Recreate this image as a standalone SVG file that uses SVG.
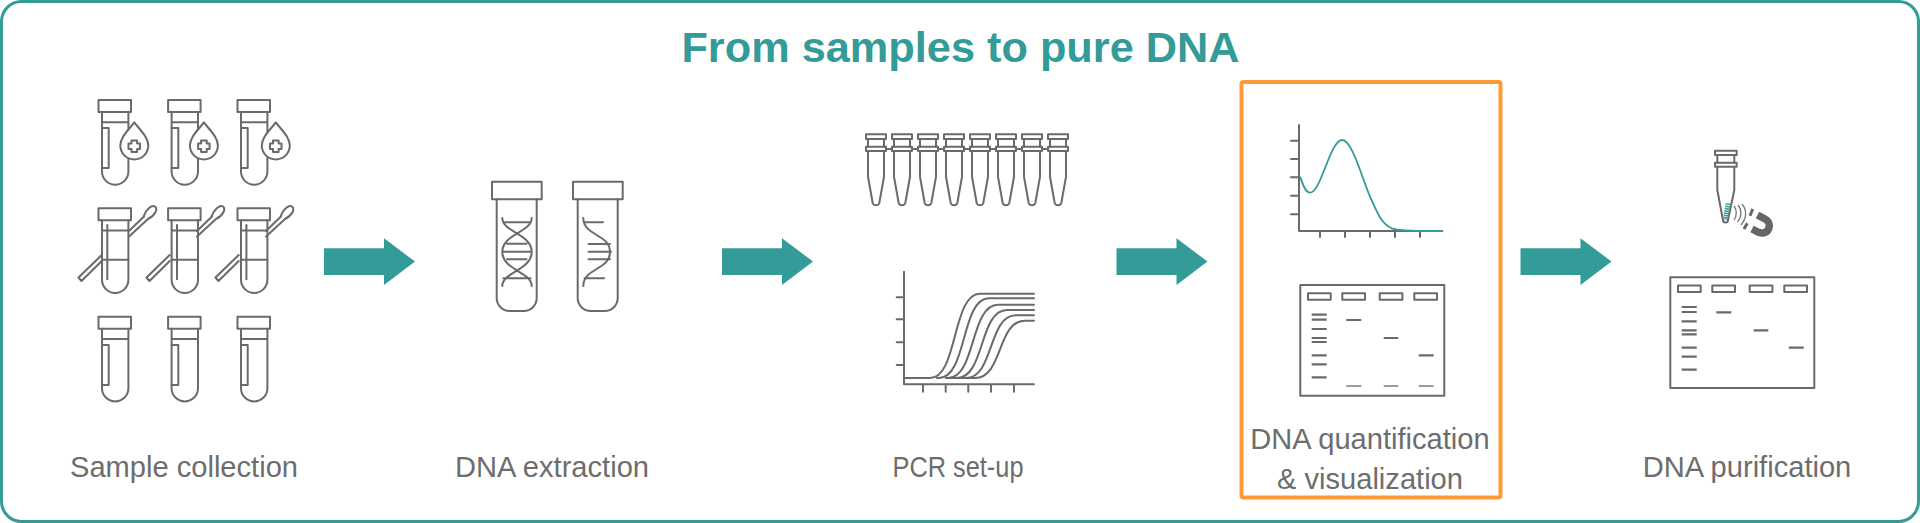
<svg xmlns="http://www.w3.org/2000/svg" width="1920" height="523" viewBox="0 0 1920 523">
<style>
.l{fill:none;stroke:#6a6a6a;stroke-width:2;stroke-linejoin:round;stroke-linecap:round}
.t{font-family:"Liberation Sans",Arial,sans-serif;font-size:29.1px;fill:#6d6d6d;text-anchor:middle}
.b{stroke:#6a6a6a;stroke-width:2.2;fill:none}
.a{fill:#339b98}
</style>
<defs>
<g id="tube"><rect class="l" x="98.500" y="100" width="32.500" height="12"/><path class="l" d="M102 112V171.500A13.200 13.200 0 0 0 128.400 171.500V112M102 122.300H128.400"/></g>
<path id="label" class="l" d="M102 128H108.700V168H102"/>
<g id="drop"><path fill="#fff" class="l" style="fill:#fff" d="M134.300 122.300C140 130 148.300 137 148.300 145.500A14 14 0 0 1 120.300 145.500C120.300 137 128.600 130 134.300 122.300Z"/><path class="l" d="M131.500 140.500H137.100V143.500H140V149H137.100V152H131.500V149H128.500V143.500H131.500Z"/></g>
<g id="swab"><path class="l" d="M101.700 255L78.500 277.500L81.500 281L101.700 261M129 231L144 216.500M129 236.500L148 219M143.500 216.500C146 209 152 204.500 155 206.500C158 209 155.500 215 148 219"/></g>
<g id="pcrtube"><path class="l" d="M868 139V146.700M884 139V146.700M868 151V176.700L872.700 203A3.500 3.500 0 0 0 879.300 203L884 176.700V151"/><rect class="l" x="866" y="134.300" width="20" height="4.700"/><rect class="l" x="866" y="146.700" width="20" height="4.300"/></g>
<g id="gelbase"><rect class="l" x="1300.300" y="285" width="144" height="110.700"/><rect class="l" x="1308" y="293.300" width="22.700" height="6.400"/><rect class="l" x="1342.300" y="293.300" width="22.700" height="6.400"/><rect class="l" x="1379.700" y="293.300" width="22.700" height="6.400"/><rect class="l" x="1414.300" y="293.300" width="22.700" height="6.400"/><path class="b" d="M1311.700 314.700H1326.700M1311.700 319.700H1326.700M1311.700 329H1326.700M1311.700 338H1326.700M1311.700 342H1326.700M1311.700 355.300H1326.700M1311.700 364.300H1326.700M1311.700 377.300H1326.700M1346.300 320H1361.300M1383.700 338H1398.300M1418.700 355.300H1433.700"/></g>
<path id="arrow" class="a" d="M324 248.300H384V238.300L415 261.500L384 285V275H324Z"/>
</defs>
<rect id="frame" x="1.500" y="1.500" width="1917" height="520" rx="20" fill="#fff" stroke="#339b98" stroke-width="3"/>
<text id="title" x="960.500" y="62" text-anchor="middle" font-family="'Liberation Sans',Arial,sans-serif" font-weight="700" font-size="43.300" fill="#339b98">From samples to pure DNA</text>
<g id="sample-collection">
<use href="#tube"/><use href="#label"/><use href="#drop"/>
<use href="#tube" x="69.600"/><use href="#label" x="69.600"/><use href="#drop" x="69.600"/>
<use href="#tube" x="139"/><use href="#label" x="139"/><use href="#drop" x="141.500"/>
<g id="swabrow">
<use href="#swab"/><use href="#swab" x="68"/><use href="#swab" x="137"/>
<use href="#tube" y="108.300"/><use href="#tube" x="69.600" y="108.300"/><use href="#tube" x="139" y="108.300"/>
<path class="l" d="M107.300 225V279.300M177 225V279.300M246.400 225V279.300M102 259.700H128.400M171.600 259.700H198M241 259.700H267.400"/>
</g>
<use href="#tube" y="216.700"/><use href="#label" y="217"/>
<use href="#tube" x="69.600" y="216.700"/><use href="#label" x="69.600" y="217"/>
<use href="#tube" x="139" y="216.700"/><use href="#label" x="139" y="217"/>
<text class="t" x="184" y="477">Sample collection</text>
</g>
<g id="dna-extraction">
<rect class="l" x="492" y="181.700" width="49.700" height="17.600"/><path class="l" d="M496.700 199.300V298A13 13 0 0 0 509.700 311H523.700A13 13 0 0 0 536.700 298V199.300"/>
<rect class="l" x="573" y="181.700" width="49.700" height="17.600"/><path class="l" d="M577.700 199.300V298A13 13 0 0 0 590.700 311H604.700A13 13 0 0 0 617.700 298V199.300"/>
<path class="l" d="M502.300 218C502.300 232 531.700 234 531.700 252C531.700 270 502.300 272 502.300 286M531.700 218C531.700 232 502.300 234 502.300 252C502.300 270 531.700 272 531.700 286M503.500 222.300H530.500M507 243.700H526.500M503 251.700H531M507 259.300H526.500M503.500 278.300H530.500"/>
<path class="l" d="M583.300 286C583.300 268 610 270 610 252C610 234 583.300 236 583.300 218M584.500 222.300H603M588.500 244H610M588.500 251.700H611M588.500 259.300H610M584.500 278.300H604"/>
<text class="t" x="552" y="477">DNA extraction</text>
</g>
<g id="pcr-setup">
<use href="#pcrtube"/><use href="#pcrtube" x="26"/><use href="#pcrtube" x="52"/><use href="#pcrtube" x="78"/><use href="#pcrtube" x="104"/><use href="#pcrtube" x="130"/><use href="#pcrtube" x="156"/><use href="#pcrtube" x="182"/>
<path class="l" d="M886 149H892M912 149H918M938 149H944M964 149H970M990 149H996M1016 149H1022M1042 149H1048"/>
<path class="l" d="M904 271.700V384.300H1034M896.700 297.300H904M896.700 319.300H904M896.700 342.300H904M896.700 365H904M923 384.300V391.700M945.700 384.300V391.700M968.300 384.300V391.700M991 384.300V391.700M1014 384.300V391.700"/>
<path class="l" d="M904 378H930C958 378 952 293.700 980 293.700H1034M937 378H939C967 378 961 298.300 989 298.300H1034M946 378H948C976 378 970 304.700 998 304.700H1034M955 378H957C985 378 979 310 1007 310H1034M964 378H966C994 378 988 315.300 1016 315.300H1034M950 378H975C1003 378 997 320.700 1025 320.700H1034"/>
<text class="t" x="958" y="477" textLength="131" lengthAdjust="spacingAndGlyphs">PCR set-up</text>
</g>
<g id="dna-quantification">
<rect x="1241.500" y="82" width="259" height="415.500" fill="none" stroke="#fb9b38" stroke-width="4" rx="2"/>
<path class="l" d="M1299 125V231H1442.300M1291 140.700H1299M1291 159H1299M1291 177.300H1299M1291 195.700H1299M1291 214.300H1299M1320 231V237M1345 231V237M1370 231V237M1395 231V237M1420 231V237"/>
<path fill="none" stroke="#339b98" stroke-width="1.800" d="M1300 176.700C1303 184 1305 192.700 1310 192.700C1321 192.700 1330 140 1342.300 140C1352 140 1362 178 1370 196.700C1378 215 1382 224 1391.700 228.300C1400 231.500 1420 231 1442 231"/>
<use href="#gelbase"/>
<path stroke="#7c7c7c" stroke-width="1.600" fill="none" d="M1346.300 386H1361.300M1383.700 386H1398.300M1418.700 386H1433.700"/>
<text class="t" x="1370" y="448.500">DNA quantification</text>
<text class="t" x="1370" y="488.500">&amp; visualization</text>
</g>
<g id="dna-purification">
<path class="l" d="M1717.300 155V162.700M1734.300 155V162.700M1717.300 166.700V190L1723 220A2.500 2.500 0 0 0 1728 220L1734.300 190V166.700"/>
<rect class="l" x="1715" y="150.700" width="21.700" height="4.300"/><rect class="l" x="1715" y="162.700" width="21.700" height="4"/>
<path fill="none" stroke="#339b98" stroke-width="5" stroke-dasharray="1.500 .8" d="M1728 203.500L1725.500 220"/>
<path fill="none" stroke="#7a7a7a" stroke-width="1.300" d="M1734 206C1737 210 1737 216 1734 220M1738 205C1742 210 1742 217 1737.500 222M1742 204C1747 210 1747 218 1741 225"/>
<path fill="none" stroke="#666" stroke-width="7.500" d="M1757.500 215L1765 219C1773 223 1769 236 1759 232.500L1752 229"/>
<path fill="none" stroke="#666" stroke-width="3" d="M1752.700 209L1750 215.700M1747.300 223.300L1744 229"/>
<use href="#gelbase" x="370" y="-7.700"/>
<text class="t" x="1747" y="477">DNA purification</text>
</g>
<g id="connectors">
<use href="#arrow"/><use href="#arrow" x="398"/><use href="#arrow" x="792.500"/><use href="#arrow" x="1196.500"/>
</g>
</svg>
